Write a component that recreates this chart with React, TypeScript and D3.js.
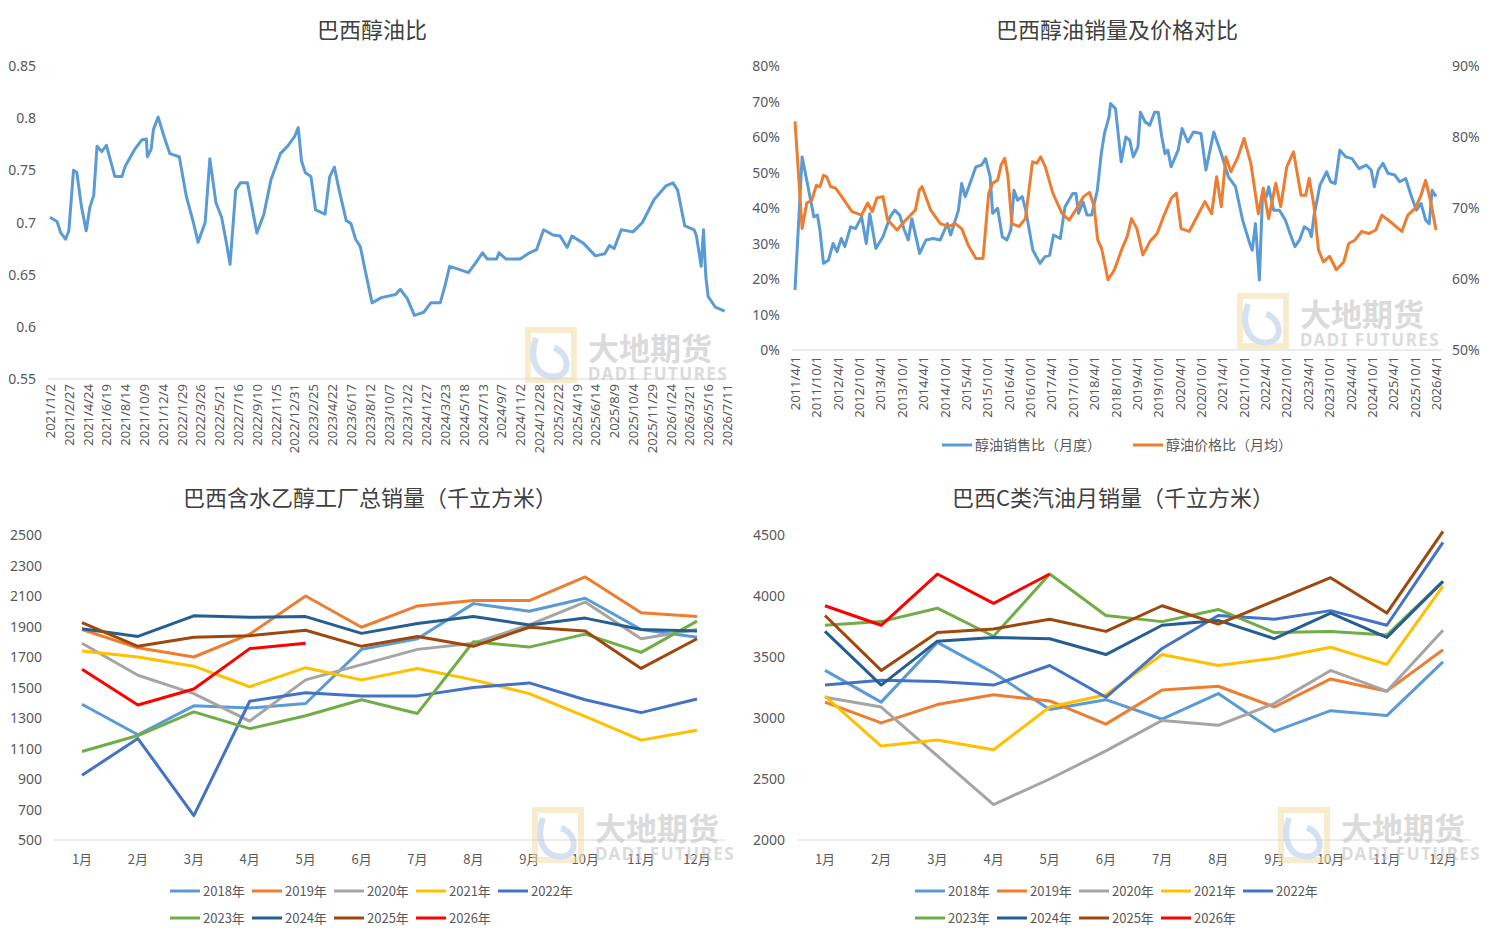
import React from 'react';
import * as d3 from 'd3';

// ---- panel 1: 巴西醇油比 (weekly, week index from 2021/1/2)
const ratioWeeks = [0, 3, 4.6, 6.6, 8, 10, 11.4, 13.4, 15.4, 17, 18.6, 20, 22, 24, 27.6, 30.6, 32, 36, 39, 41, 41.4, 43, 44, 46, 49, 51, 55, 58, 61, 63, 66, 68, 70.6, 73, 75, 76.6, 79, 81, 84, 88, 91, 94, 98, 101, 104, 105.6, 107, 108.6, 111, 113, 117, 119, 121, 123, 126, 128, 130, 132, 134, 137, 141, 147, 149, 152, 155, 159, 162, 166, 168, 170, 174, 178, 181, 184, 186, 190, 191, 194, 196, 200, 204, 207, 210, 214, 217, 220, 222, 227, 232, 236, 238, 240, 243, 248, 252, 257, 262, 265, 267, 270, 274, 275, 277, 278, 279, 280, 283, 287];
const ratioValues = [0.705, 0.701, 0.69, 0.684, 0.692, 0.75, 0.748, 0.715, 0.692, 0.715, 0.726, 0.773, 0.768, 0.774, 0.744, 0.744, 0.754, 0.77, 0.779, 0.78, 0.763, 0.77, 0.789, 0.801, 0.779, 0.766, 0.763, 0.725, 0.7, 0.681, 0.7, 0.761, 0.719, 0.705, 0.681, 0.66, 0.731, 0.738, 0.738, 0.69, 0.708, 0.741, 0.766, 0.773, 0.782, 0.791, 0.759, 0.748, 0.744, 0.712, 0.708, 0.744, 0.753, 0.731, 0.702, 0.699, 0.684, 0.677, 0.655, 0.623, 0.628, 0.631, 0.636, 0.627, 0.611, 0.614, 0.623, 0.623, 0.639, 0.658, 0.655, 0.652, 0.661, 0.671, 0.665, 0.665, 0.671, 0.665, 0.665, 0.665, 0.671, 0.674, 0.693, 0.688, 0.687, 0.676, 0.687, 0.68, 0.668, 0.67, 0.678, 0.675, 0.693, 0.691, 0.7, 0.722, 0.735, 0.738, 0.731, 0.697, 0.693, 0.687, 0.658, 0.693, 0.648, 0.629, 0.619, 0.615];
const ratioTickLabels = ['2021/1/2', '2021/2/27', '2021/4/24', '2021/6/19', '2021/8/14', '2021/10/9', '2021/12/4', '2022/1/29', '2022/3/26', '2022/5/21', '2022/7/16', '2022/9/10', '2022/11/5', '2022/12/31', '2023/2/25', '2023/4/22', '2023/6/17', '2023/8/12', '2023/10/7', '2023/12/2', '2024/1/27', '2024/3/23', '2024/5/18', '2024/7/13', '2024/9/7', '2024/11/2', '2024/12/28', '2025/2/22', '2025/4/19', '2025/6/14', '2025/8/9', '2025/10/4', '2025/11/29', '2026/1/24', '2026/3/21', '2026/5/16', '2026/7/11'];
const ratioYTicks = [0.55, 0.6, 0.65, 0.7, 0.75, 0.8, 0.85];

// ---- panel 2: 销量及价格对比 (monthly, month index from 2011/4/1)
const salesMonths = [0, 2, 3.3, 5.3, 6.3, 7, 8, 9.4, 10.7, 11.8, 13, 14, 15.6, 17, 18.7, 20, 21, 22.7, 24.7, 26.7, 28, 29.4, 30.7, 31.8, 32.8, 35, 36.8, 38.8, 40.8, 42.8, 43.7, 45.9, 46.8, 47.8, 50.8, 52.4, 53.5, 54.8, 55.5, 56.9, 58.2, 59.5, 60.6, 61.5, 62.5, 63.8, 64.8, 66.8, 68.8, 70.2, 71.5, 72.6, 74.5, 75.8, 78, 78.9, 79.6, 80.9, 82, 83.3, 84.9, 86, 86.9, 88.2, 88.6, 90, 91.6, 92.9, 94, 95, 96.3, 97, 98.3, 99.6, 101, 102, 103, 103.9, 104.7, 105.6, 107.6, 108.7, 110.3, 111.9, 114, 115.4, 117.6, 119.7, 121.7, 123.7, 125.7, 127.7, 128.4, 129.3, 130.4, 131.3, 132.4, 133, 134.4, 136, 137.7, 139, 140.4, 141.7, 143, 144.4, 145, 145.7, 147.4, 149.3, 150.4, 151.7, 153, 154.7, 156.4, 158.4, 160.4, 161.8, 162.7, 163.8, 165.1, 166.5, 168.4, 169.8, 171.5, 173.1, 174.5, 175.8, 177.1, 178.1, 178.9, 180];
const salesRatio = [16.9, 54.4, 47.8, 37.5, 38, 33.8, 24.4, 25.3, 30, 27.7, 31.4, 29.1, 34.7, 34.2, 37.5, 30, 38.4, 28.6, 31.9, 37.5, 39.4, 38, 33.8, 31, 37, 27.2, 31, 31.4, 31, 35.6, 32.4, 39.4, 46.9, 43.2, 51.6, 52.1, 53.9, 48.8, 38.5, 39.9, 31.9, 31, 33.8, 45, 42.2, 43.2, 39.4, 28.1, 24.4, 26.3, 26.7, 32.4, 31.4, 40.3, 44.1, 44.1, 38.5, 41.7, 38, 38, 45, 55.3, 61, 65.7, 69.4, 68, 53, 60, 59.1, 54.4, 57.2, 67, 64.3, 63.3, 67, 67, 60, 55.3, 56.3, 51.6, 56.3, 62.4, 58.6, 61.4, 61, 50.7, 61.4, 55.3, 48.8, 46, 36.6, 30, 28.1, 35.6, 19.7, 44.1, 43.2, 46, 39.4, 39.4, 36.6, 32.8, 29.1, 31, 34.7, 33.8, 31.9, 37.5, 46.4, 50.2, 47.4, 46.9, 56.3, 54.4, 53.9, 51.1, 52.1, 50.7, 46, 50.7, 52.6, 49.8, 49.3, 47.4, 48.3, 43.2, 39.4, 41.3, 36.6, 35.6, 45, 43.2];
const priceMonths = [0, 2, 3.3, 4.7, 6, 7, 8, 8.9, 10, 11.4, 13.4, 16, 18.7, 20.4, 21.7, 23, 24.7, 26, 28.7, 31.1, 33.8, 34.9, 35.7, 38.1, 40.8, 43.2, 45, 46.8, 48.8, 50.8, 52.8, 54.4, 55.5, 56.9, 57.9, 58.9, 59.8, 60.9, 62.9, 64.7, 66.7, 67.9, 69, 70.3, 72.4, 75, 77, 78.8, 81, 82.7, 84, 85, 86.1, 87.9, 89.7, 91.7, 93.3, 94.5, 96, 97.7, 99.7, 101.7, 103.5, 105.7, 107.1, 108.4, 110.7, 112.4, 115.1, 117, 118.4, 119.7, 121, 122.4, 124.4, 126.1, 128, 130.1, 131.5, 133, 135, 136.4, 138.1, 140, 142.1, 143.4, 144.4, 145.7, 147, 148.4, 150.1, 152, 154.1, 155.5, 157.3, 159.1, 161.1, 163.1, 164.8, 167.1, 170.4, 172.1, 174.2, 175.8, 177.1, 178.5, 180];
const priceRatio = [82.2, 67.1, 70.7, 71.1, 73.2, 73, 74.6, 74.4, 73, 72.8, 71.4, 69.5, 69, 70.7, 69.5, 71.4, 71.6, 68.3, 66.9, 68.3, 69.7, 72.5, 73, 69.7, 67.8, 67.4, 67.8, 67.1, 64.6, 62.9, 62.9, 72.1, 73.5, 73.9, 76.1, 77, 74.4, 67.8, 67.4, 68.5, 76.5, 76.3, 77.2, 75.8, 72.1, 69.2, 68.3, 69.7, 71.6, 72.2, 70.2, 65.5, 64.3, 59.9, 61.3, 64.1, 66, 68.5, 67.1, 63.4, 65.3, 66.4, 68.8, 71.4, 72.1, 67.1, 66.7, 68.3, 70.9, 69.2, 74.4, 70.2, 77.2, 75.1, 77.2, 79.8, 76.3, 69.2, 72.8, 68.5, 73.5, 70.2, 75.8, 77.9, 71.8, 71.8, 74.2, 70.4, 64.1, 62.4, 63.2, 61.3, 62.4, 65, 65.5, 66.7, 66.4, 66.9, 69, 68.1, 66.7, 69, 70, 71.8, 73.9, 70.9, 66.9];
const salesTickLabels = ['2011/4/1', '2011/10/1', '2012/4/1', '2012/10/1', '2013/4/1', '2013/10/1', '2014/4/1', '2014/10/1', '2015/4/1', '2015/10/1', '2016/4/1', '2016/10/1', '2017/4/1', '2017/10/1', '2018/4/1', '2018/10/1', '2019/4/1', '2019/10/1', '2020/4/1', '2020/10/1', '2021/4/1', '2021/10/1', '2022/4/1', '2022/10/1', '2023/4/1', '2023/10/1', '2024/4/1', '2024/10/1', '2025/4/1', '2025/10/1', '2026/4/1'];
const leftPctTicks = [0, 10, 20, 30, 40, 50, 60, 70, 80];
const rightPctTicks = [50, 60, 70, 80, 90];

// ---- panels 3 and 4: monthly by year
const months = ['1月', '2月', '3月', '4月', '5月', '6月', '7月', '8月', '9月', '10月', '11月', '12月'];
const years = ['2018年', '2019年', '2020年', '2021年', '2022年', '2023年', '2024年', '2025年', '2026年'];
const yearColors = ['#5B9BD5', '#ED7D31', '#A5A5A5', '#FFC000', '#4472C4', '#70AD47', '#255E91', '#9E480E', '#FF0000'];

const ethanol2018 = [1390, 1190, 1380, 1365, 1395, 1750, 1820, 2050, 2000, 2085, 1880, 1830];
const ethanol2019 = [1880, 1760, 1700, 1850, 2100, 1895, 2035, 2070, 2070, 2225, 1990, 1965];
const ethanol2020 = [1790, 1580, 1460, 1280, 1550, 1650, 1750, 1790, 1910, 2060, 1820, 1880];
const ethanol2021 = [1740, 1700, 1640, 1505, 1630, 1550, 1625, 1550, 1460, 1310, 1155, 1220];
const ethanol2022 = [925, 1165, 660, 1410, 1465, 1445, 1445, 1500, 1530, 1420, 1335, 1425];
const ethanol2023 = [1080, 1185, 1340, 1230, 1315, 1420, 1330, 1800, 1765, 1850, 1730, 1935];
const ethanol2024 = [1885, 1835, 1970, 1960, 1965, 1855, 1920, 1965, 1910, 1955, 1880, 1870];
const ethanol2025 = [1925, 1770, 1830, 1840, 1875, 1770, 1835, 1770, 1895, 1870, 1625, 1820];
const ethanol2026 = [1620, 1385, 1490, 1755, 1790];
const ethanolTicks = [500, 700, 900, 1100, 1300, 1500, 1700, 1900, 2100, 2300, 2500];

const gas2018 = [3390, 3130, 3620, 3370, 3070, 3150, 2990, 3200, 2890, 3060, 3020, 3460];
const gas2019 = [3130, 2960, 3110, 3190, 3140, 2950, 3230, 3260, 3090, 3320, 3220, 3560];
const gas2020 = [3170, 3090, 2690, 2290, 2500, 2730, 2980, 2940, 3120, 3390, 3220, 3720];
const gas2021 = [3180, 2770, 2820, 2740, 3090, 3190, 3520, 3430, 3490, 3580, 3440, 4080];
const gas2022 = [3270, 3310, 3300, 3270, 3430, 3170, 3570, 3840, 3810, 3880, 3760, 4440];
const gas2023 = [3760, 3790, 3900, 3670, 4180, 3840, 3790, 3890, 3700, 3710, 3680, 4120];
const gas2024 = [3710, 3270, 3630, 3660, 3650, 3520, 3760, 3800, 3650, 3860, 3660, 4120];
const gas2025 = [3840, 3390, 3700, 3730, 3810, 3710, 3920, 3770, 3960, 4150, 3860, 4530];
const gas2026 = [3920, 3760, 4180, 3940, 4180];
const gasTicks = [2000, 2500, 3000, 3500, 4000, 4500];

const ethanolSeries = [ethanol2018, ethanol2019, ethanol2020, ethanol2021, ethanol2022, ethanol2023, ethanol2024, ethanol2025, ethanol2026];
const gasSeries = [gas2018, gas2019, gas2020, gas2021, gas2022, gas2023, gas2024, gas2025, gas2026];

const AX = '"Liberation Sans Narrow", "Noto Sans", sans-serif';
const CJK = '"Noto Sans CJK SC", sans-serif';
const TICK = '#595959';

function Watermark({ x, y }: { x: number; y: number }) {
  return (
    <g transform={`translate(${x},${y})`} opacity={0.55}>
      <rect x={0} y={0} width={46} height={50} fill="none" stroke="#F2DFA7" strokeWidth={6} />
      <path d="M8,8 C0,30 10,50 30,46 C44,42 40,22 26,18" fill="none" stroke="#B4C7E7" strokeWidth={6} />
      <text x={60} y={30} fontFamily={CJK} fontWeight={700} fontSize={31} fill="#BFBFBF">大地期货</text>
      <text x={60} y={50} fontFamily={AX} fontWeight={700} fontSize={17} fill="#BFBFBF" letterSpacing={1.5}>DADI FUTURES</text>
    </g>
  );
}

function RatioPanel() {
  const x = d3.scaleLinear().domain([0, 288]).range([50, 727]);
  const y = d3.scaleLinear().domain([0.55, 0.85]).range([379, 66]);
  const line = d3.line<number>().x((_, i) => x(ratioWeeks[i])).y((v) => y(v));
  return (
    <g>
      <text x={372} y={38} textAnchor="middle" fontFamily={CJK} fontSize={22} fill="#404040">巴西醇油比</text>
      <line x1={48} x2={727} y1={379} y2={379} stroke="#D9D9D9" />
      {ratioYTicks.map((t) => (
        <text key={t} x={36} y={y(t) + 5} textAnchor="end" fontFamily={AX} fontSize={14} fill={TICK}>{t}</text>
      ))}
      {ratioTickLabels.map((l, i) => (
        <text key={l} transform={`translate(${x(i * 8) + 5},${384}) rotate(-90)`} textAnchor="end" fontFamily={AX} fontSize={13} fill={TICK}>{l}</text>
      ))}
      <Watermark x={528} y={330} />
      <path d={line(ratioValues) || ''} fill="none" stroke="#5B9BD5" strokeWidth={3} strokeLinejoin="round" />
    </g>
  );
}

function SalesPricePanel() {
  const x = d3.scaleLinear().domain([0, 180]).range([795, 1436]);
  const yl = d3.scaleLinear().domain([0, 80]).range([350, 66]);
  const yr = d3.scaleLinear().domain([50, 90]).range([350, 66]);
  const blue = d3.line<number>().x((_, i) => x(salesMonths[i])).y((v) => yl(v));
  const orange = d3.line<number>().x((_, i) => x(priceMonths[i])).y((v) => yr(v));
  return (
    <g>
      <text x={1117} y={38} textAnchor="middle" fontFamily={CJK} fontSize={22} fill="#404040">巴西醇油销量及价格对比</text>
      <line x1={792} x2={1442} y1={350} y2={350} stroke="#D9D9D9" />
      {leftPctTicks.map((t) => (
        <text key={t} x={780} y={yl(t) + 5} textAnchor="end" fontFamily={AX} fontSize={14} fill={TICK}>{t}%</text>
      ))}
      {rightPctTicks.map((t) => (
        <text key={t} x={1452} y={yr(t) + 5} fontFamily={AX} fontSize={14} fill={TICK}>{t}%</text>
      ))}
      {salesTickLabels.map((l, i) => (
        <text key={l} transform={`translate(${x(i * 6) + 5},${356}) rotate(-90)`} textAnchor="end" fontFamily={AX} fontSize={13} fill={TICK}>{l}</text>
      ))}
      <Watermark x={1240} y={296} />
      <path d={blue(salesRatio) || ''} fill="none" stroke="#5B9BD5" strokeWidth={3} strokeLinejoin="round" />
      <path d={orange(priceRatio) || ''} fill="none" stroke="#ED7D31" strokeWidth={3} strokeLinejoin="round" />
      <line x1={942} x2={972} y1={445} y2={445} stroke="#5B9BD5" strokeWidth={3} />
      <text x={975} y={450} fontFamily={CJK} fontSize={14} fill={TICK}>醇油销售比（月度）</text>
      <line x1={1133} x2={1163} y1={445} y2={445} stroke="#ED7D31" strokeWidth={3} />
      <text x={1166} y={450} fontFamily={CJK} fontSize={14} fill={TICK}>醇油价格比（月均）</text>
    </g>
  );
}

function YearPanel({ title, cx, x0, x1, domain, ticks, series, legendX }: {
  title: string; cx: number; x0: number; x1: number; domain: [number, number];
  ticks: number[]; series: number[][]; legendX: number;
}) {
  const x = d3.scalePoint<string>().domain(months).range([x0 + 28, x1 - 28]);
  const y = d3.scaleLinear().domain(domain).range([840, 535]);
  const line = d3.line<number>().x((_, i) => x(months[i]) as number).y((v) => y(v));
  const clipId = `clip-${x0}`;
  return (
    <g>
      <text x={cx} y={506} textAnchor="middle" fontFamily={CJK} fontSize={22} fill="#404040">{title}</text>
      <clipPath id={clipId}><rect x={x0 - 5} y={530} width={x1 - x0 + 10} height={315} /></clipPath>
      <line x1={x0} x2={x1} y1={840} y2={840} stroke="#D9D9D9" />
      {ticks.map((t) => (
        <text key={t} x={x0 - 12} y={y(t) + 5} textAnchor="end" fontFamily={AX} fontSize={14} fill={TICK}>{t}</text>
      ))}
      {months.map((m) => (
        <text key={m} x={x(m)} y={864} textAnchor="middle" fontFamily={CJK} fontSize={13} fill={TICK}>{m}</text>
      ))}
      <Watermark x={x1 - 190} y={810} />
      <g clipPath={`url(#${clipId})`}>
        {series.map((s, i) => (
          <path key={years[i]} d={line(s) || ''} fill="none" stroke={yearColors[i]} strokeWidth={3} strokeLinejoin="round" />
        ))}
      </g>
      {years.map((yr, i) => {
        const lx = legendX + (i % 5) * 82;
        const ly = i < 5 ? 891 : 918;
        return (
          <g key={yr}>
            <line x1={lx} x2={lx + 30} y1={ly} y2={ly} stroke={yearColors[i]} strokeWidth={3} />
            <text x={lx + 33} y={ly + 5} fontFamily={CJK} fontSize={13} fill={TICK}>{yr}</text>
          </g>
        );
      })}
    </g>
  );
}

export default function App() {
  return (
    <svg width={1490} height={940} style={{ display: 'block', position: 'absolute', left: 0, top: 0, background: '#fff' }}>
      <rect width={1490} height={940} fill="#fff" />
      <RatioPanel />
      <SalesPricePanel />
      <YearPanel title="巴西含水乙醇工厂总销量（千立方米）" cx={370} x0={54} x1={725} domain={[500, 2500]} ticks={ethanolTicks} series={ethanolSeries} legendX={170} />
      <YearPanel title="巴西C类汽油月销量（千立方米）" cx={1113} x0={797} x1={1471} domain={[2000, 4500]} ticks={gasTicks} series={gasSeries} legendX={915} />
    </svg>
  );
}
